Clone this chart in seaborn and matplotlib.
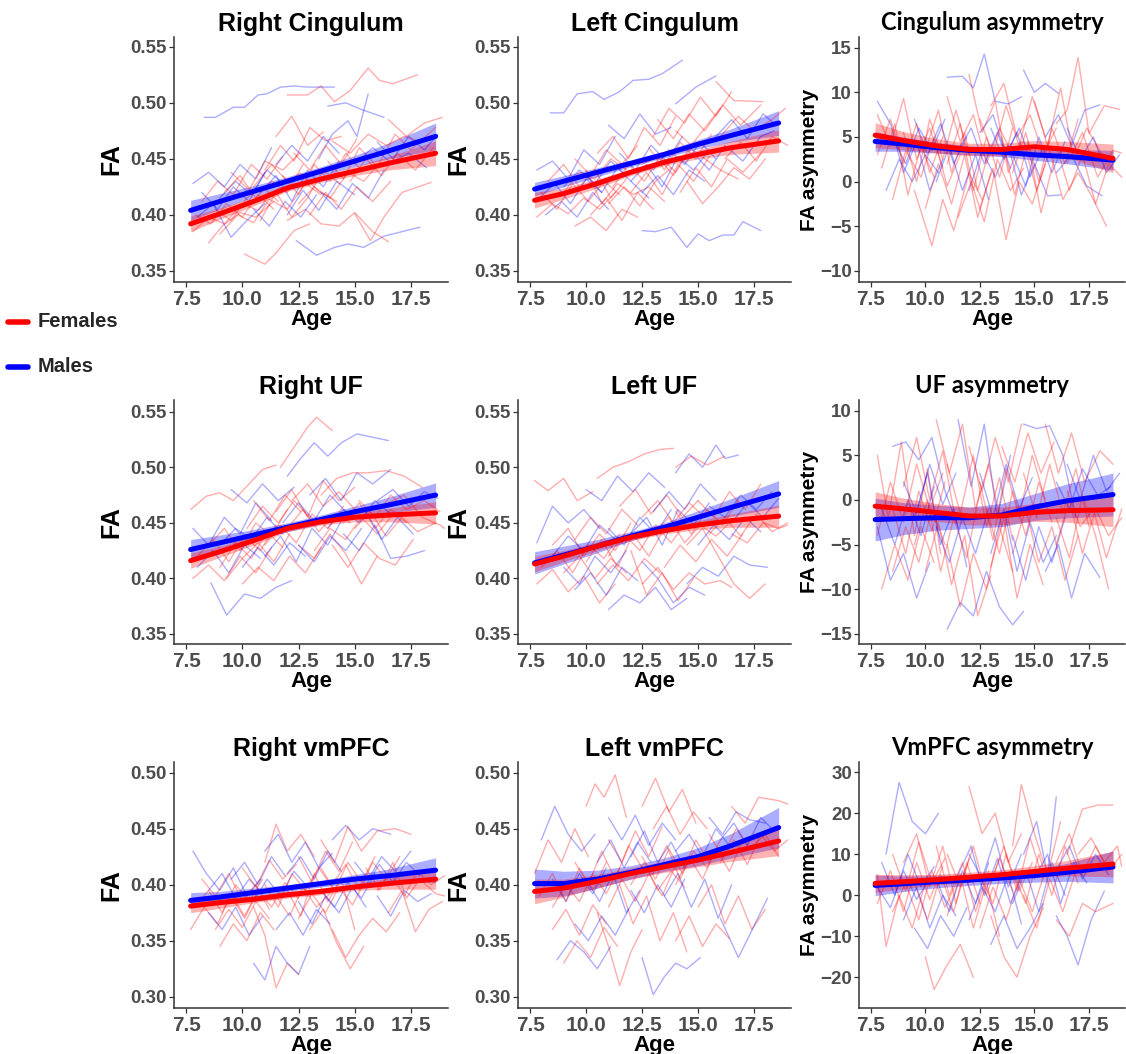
import matplotlib
matplotlib.use("Agg")
import matplotlib.pyplot as plt
import seaborn as sns
import pandas as pd
from matplotlib.lines import Line2D

sns.set_theme(style="ticks")
plt.rcParams['font.family'] = ['Liberation Sans', 'DejaVu Sans']
plt.rcParams['font.weight'] = 'bold'
plt.rcParams['axes.titleweight'] = 'bold'
plt.rcParams['axes.labelweight'] = 'bold'

# ---------------- data ----------------
FIT_AGE = [7.7, 9.0, 10.5, 12.0, 13.5, 15.0, 16.5, 18.6]

# Right Cingulum
RC_F = [
    [(12.0,0.507),(12.9,0.507),(13.5,0.515),(14.1,0.501),(14.8,0.511),(15.6,0.531),(16.1,0.520),(16.7,0.517),(17.8,0.525)],
    [(10.1,0.365),(11.0,0.356),(11.5,0.366),(12.3,0.386),(13.0,0.392)],
    [(7.8,0.385),(8.5,0.398),(9.2,0.392),(10.0,0.410),(10.7,0.404),(11.3,0.420)],
    [(8.2,0.412),(8.9,0.430),(9.6,0.418),(10.4,0.445),(11.1,0.432),(11.8,0.452)],
    [(9.0,0.383),(9.8,0.400),(10.5,0.393),(11.2,0.414),(12.0,0.405),(12.8,0.428),(13.5,0.418)],
    [(11.0,0.440),(11.7,0.462),(12.3,0.448),(13.0,0.478),(13.7,0.466),(14.4,0.470)],
    [(12.5,0.410),(13.2,0.425),(13.9,0.415),(14.7,0.438),(15.4,0.430),(16.1,0.446)],
    [(13.8,0.448),(14.5,0.432),(15.2,0.460),(16.0,0.443),(16.8,0.472),(17.5,0.458),(18.6,0.478)],
    [(15.0,0.401),(15.7,0.377),(16.3,0.398),(17.1,0.420),(18.4,0.429)],
    [(10.5,0.425),(11.3,0.445),(12.0,0.430),(12.6,0.437),(13.4,0.421),(14.2,0.412)],
    [(12.0,0.395),(12.8,0.405),(13.5,0.392),(14.3,0.390),(15.0,0.402),(15.8,0.385),(16.5,0.376)],
    [(8.5,0.375),(9.1,0.390),(9.9,0.402),(10.6,0.398),(11.4,0.412)],
    [(14.0,0.466),(14.8,0.455),(15.6,0.472),(16.4,0.462),(17.2,0.470),(18.0,0.465)],
    [(9.5,0.438),(10.3,0.422),(11.0,0.448),(11.8,0.440),(12.6,0.456)],
    [(11.5,0.470),(12.2,0.488),(12.9,0.462),(13.6,0.474)],
    [(16.5,0.485),(17.3,0.470),(18.1,0.482),(18.9,0.487)],
    [(7.9,0.400),(8.6,0.392),(9.3,0.410),(10.0,0.398),(10.7,0.418),(11.4,0.405)],
    [(9.2,0.420),(9.9,0.435),(10.6,0.415),(11.3,0.430),(12.0,0.420),(12.7,0.445)],
    [(10.8,0.395),(11.5,0.420),(12.2,0.398),(12.9,0.415),(13.6,0.440),(14.3,0.428)],
    [(11.8,0.435),(12.5,0.418),(13.2,0.445),(13.9,0.430),(14.6,0.455),(15.3,0.440)],
    [(13.0,0.400),(13.7,0.420),(14.4,0.405),(15.1,0.425),(15.8,0.412),(16.6,0.430)],
    [(14.8,0.430),(15.5,0.450),(16.2,0.435),(16.9,0.455),(17.7,0.440),(18.5,0.460)],
    [(8.8,0.405),(9.5,0.395),(10.2,0.415),(10.9,0.425),(11.6,0.412)],
    [(12.3,0.455),(13.0,0.440),(13.7,0.462),(14.4,0.445),(15.1,0.468)],
]
RC_M = [
    [(8.3,0.487),(8.8,0.487),(9.6,0.496),(10.1,0.496),(10.7,0.507),(11.1,0.508),(11.7,0.514),(12.3,0.515),(12.9,0.514),(14.1,0.514)],
    [(12.4,0.377),(13.3,0.364),(14.1,0.371),(14.7,0.374),(15.4,0.371),(16.3,0.381),(17.9,0.389)],
    [(13.8,0.497),(14.6,0.500),(15.3,0.494),(16.3,0.487)],
    [(13.4,0.450),(14.0,0.472),(14.7,0.484),(15.1,0.470),(15.6,0.508)],
    [(7.8,0.428),(8.5,0.438),(9.2,0.425),(9.9,0.445),(10.6,0.432),(11.3,0.460)],
    [(8.0,0.398),(8.7,0.410),(9.5,0.380),(10.2,0.395),(11.0,0.410)],
    [(10.8,0.420),(11.5,0.435),(12.2,0.412),(12.9,0.440),(13.6,0.425),(14.3,0.448)],
    [(12.0,0.400),(12.7,0.422),(13.4,0.404),(14.2,0.430),(15.0,0.418)],
    [(15.0,0.445),(15.8,0.460),(16.6,0.447),(17.4,0.455),(18.2,0.442)],
    [(9.0,0.415),(9.7,0.430),(10.4,0.418),(11.1,0.440),(11.8,0.428)],
    [(11.5,0.445),(12.2,0.462),(12.9,0.448),(13.6,0.470),(14.3,0.455)],
    [(13.5,0.420),(14.2,0.405),(14.9,0.428),(15.6,0.415),(16.3,0.440)],
    [(8.2,0.420),(8.9,0.405),(9.6,0.425),(10.3,0.412),(11.0,0.438)],
    [(16.0,0.465),(16.7,0.450),(17.4,0.470),(18.1,0.458),(18.7,0.472)],
    [(10.5,0.405),(11.2,0.390),(11.9,0.412),(12.6,0.398),(13.3,0.418)],
]
RC_F_MEAN = [0.392, 0.401, 0.412, 0.424, 0.432, 0.439, 0.446, 0.455]
RC_F_HW = [0.007, 0.005, 0.004, 0.003, 0.003, 0.004, 0.006, 0.011]
RC_M_MEAN = [0.404, 0.412, 0.421, 0.430, 0.439, 0.448, 0.457, 0.470]
RC_M_HW = [0.009, 0.007, 0.005, 0.004, 0.004, 0.005, 0.007, 0.012]

# Left Cingulum
LC_F = [
    [(15.8,0.519),(16.6,0.502),(17.9,0.501)],
    [(7.8,0.398),(8.5,0.410),(9.2,0.401),(9.9,0.415),(10.6,0.405),(11.3,0.420)],
    [(8.3,0.430),(9.0,0.445),(9.7,0.425),(10.4,0.440),(11.1,0.415),(11.8,0.432)],
    [(9.5,0.390),(10.2,0.398),(10.9,0.386),(11.6,0.405),(12.3,0.398)],
    [(10.5,0.455),(11.2,0.470),(11.9,0.450),(12.6,0.478),(13.3,0.462),(14.0,0.488)],
    [(12.0,0.420),(12.7,0.438),(13.4,0.418),(14.1,0.445),(14.8,0.430),(15.5,0.452)],
    [(13.0,0.470),(13.7,0.495),(14.4,0.482),(15.1,0.505),(15.8,0.488),(16.5,0.510)],
    [(14.5,0.430),(15.2,0.410),(15.9,0.425),(16.6,0.442),(17.3,0.432),(18.0,0.450)],
    [(11.0,0.410),(11.7,0.425),(12.4,0.408),(13.1,0.430),(13.8,0.442)],
    [(16.0,0.470),(16.8,0.488),(17.5,0.475),(18.3,0.485),(18.9,0.495)],
    [(9.0,0.420),(9.7,0.438),(10.4,0.432),(11.1,0.450),(11.8,0.440)],
    [(12.5,0.445),(13.2,0.452),(13.9,0.435),(14.6,0.460),(15.3,0.450),(16.0,0.440),(16.8,0.432)],
    [(14.0,0.475),(14.7,0.462),(15.4,0.480),(16.1,0.498),(16.9,0.480),(17.8,0.498)],
    [(10.0,0.440),(10.7,0.410),(11.4,0.428),(12.1,0.418),(12.8,0.425),(13.5,0.412)],
    [(8.0,0.420),(8.7,0.405),(9.4,0.428),(10.1,0.412),(10.8,0.430),(11.5,0.418)],
    [(9.5,0.450),(10.2,0.435),(10.9,0.458),(11.6,0.445),(12.3,0.462)],
    [(11.2,0.425),(11.9,0.445),(12.6,0.430),(13.3,0.452),(14.0,0.438),(14.7,0.460)],
    [(12.8,0.460),(13.5,0.440),(14.2,0.465),(14.9,0.450),(15.6,0.472)],
    [(14.2,0.420),(14.9,0.442),(15.6,0.425),(16.3,0.450),(17.0,0.438),(17.8,0.455)],
    [(16.2,0.450),(16.9,0.465),(17.6,0.448),(18.3,0.470),(19.0,0.462)],
    [(10.2,0.400),(10.9,0.415),(11.6,0.395),(12.3,0.420),(13.0,0.405)],
    [(13.2,0.485),(13.9,0.468),(14.6,0.490),(15.3,0.475),(16.0,0.495)],
]
LC_M = [
    [(8.4,0.491),(9.0,0.491),(9.6,0.508),(10.3,0.510),(10.8,0.503),(11.5,0.510),(12.1,0.520),(12.8,0.521),(13.4,0.526),(14.3,0.538)],
    [(12.5,0.386),(13.1,0.385),(13.8,0.389),(14.5,0.371),(15.0,0.383),(15.5,0.377),(16.1,0.382),(16.6,0.382),(17.0,0.394),(17.8,0.386)],
    [(14.0,0.499),(14.9,0.514),(15.8,0.524)],
    [(7.8,0.440),(8.5,0.448),(9.2,0.432),(9.9,0.458),(10.6,0.445),(11.3,0.470)],
    [(8.2,0.400),(8.9,0.412),(9.6,0.398),(10.3,0.420),(11.0,0.405)],
    [(11.0,0.480),(11.7,0.468),(12.4,0.490),(13.1,0.472),(13.8,0.478)],
    [(12.0,0.430),(12.7,0.445),(13.4,0.425),(14.1,0.452),(14.8,0.440),(15.5,0.458)],
    [(14.8,0.455),(15.5,0.440),(16.2,0.462),(17.0,0.448),(17.8,0.470),(18.4,0.475)],
    [(10.0,0.435),(10.7,0.420),(11.4,0.442),(12.1,0.428),(12.8,0.415)],
    [(9.0,0.425),(9.7,0.440),(10.4,0.428),(11.1,0.448),(11.8,0.435)],
    [(11.5,0.455),(12.2,0.440),(12.9,0.462),(13.6,0.448),(14.3,0.470)],
    [(13.0,0.440),(13.7,0.458),(14.4,0.445),(15.1,0.465),(15.8,0.450)],
    [(15.8,0.470),(16.5,0.485),(17.2,0.468),(17.9,0.490),(18.5,0.480)],
    [(7.9,0.415),(8.6,0.428),(9.3,0.410),(10.0,0.432),(10.7,0.420)],
    [(12.5,0.420),(13.2,0.435),(13.9,0.418),(14.6,0.440),(15.3,0.430)],
]
LC_F_MEAN = [0.413, 0.419, 0.428, 0.438, 0.447, 0.454, 0.460, 0.466]
LC_F_HW = [0.007, 0.005, 0.004, 0.003, 0.003, 0.004, 0.006, 0.010]
LC_M_MEAN = [0.423, 0.430, 0.438, 0.446, 0.454, 0.463, 0.471, 0.482]
LC_M_HW = [0.006, 0.005, 0.004, 0.003, 0.003, 0.004, 0.006, 0.011]

# Cingulum asymmetry
CA_F = [
    [(16.0,6.5),(16.5,8.0),(17.0,13.9),(17.5,5.4),(18.2,8.5),(18.9,8.1)],
    [(9.5,-1.0),(10.3,-7.2),(10.8,-2.0),(11.3,-5.5),(12.0,1.0),(12.6,-2.0)],
    [(7.8,7.5),(8.4,4.0),(9.0,9.3),(9.6,2.5),(10.2,6.0),(10.8,1.5)],
    [(8.5,-2.0),(9.1,3.5),(9.8,0.5),(10.4,5.0),(11.0,-0.5),(11.6,3.0)],
    [(11.0,9.5),(11.6,4.5),(12.2,7.5),(12.8,2.0),(13.4,6.0),(14.0,3.0)],
    [(12.5,-3.0),(13.1,1.5),(13.7,-6.5),(14.3,0.0),(14.9,-2.5),(15.5,2.0)],
    [(13.0,8.5),(13.6,11.0),(14.2,5.0),(14.8,7.5),(15.4,3.0),(16.0,6.0)],
    [(14.5,4.5),(15.1,-1.0),(15.7,3.5),(16.3,-2.0),(17.0,1.0),(17.6,-1.5),(18.3,-5.0)],
    [(10.0,3.5),(10.6,8.0),(11.2,1.0),(11.8,5.5),(12.4,-1.0),(13.0,4.0)],
    [(15.0,9.0),(15.6,4.0),(16.2,10.5),(16.8,2.5),(17.4,6.0),(18.1,3.0)],
    [(8.0,1.5),(8.6,6.5),(9.2,-1.5),(9.8,4.0),(10.4,0.5)],
    [(12.0,12.0),(12.6,5.5),(13.2,9.0),(13.8,1.0),(14.4,4.5)],
    [(11.5,-4.0),(12.1,0.0),(12.7,-4.5),(13.3,2.5),(13.9,-1.0),(14.5,1.5)],
    [(16.5,2.0),(17.2,5.5),(17.9,0.5),(18.6,3.5),(19.0,3.2)],
    [(7.8,3.0),(8.4,7.0),(9.0,2.0),(9.6,6.5),(10.2,1.0),(10.8,5.0)],
    [(9.0,5.5),(9.6,0.0),(10.2,7.0),(10.8,2.5),(11.4,8.0),(12.0,3.0)],
    [(11.0,2.0),(11.6,6.5),(12.2,-1.0),(12.8,5.0),(13.4,0.5),(14.0,6.0)],
    [(12.5,7.0),(13.1,3.0),(13.7,8.5),(14.3,4.0),(14.9,9.5),(15.5,5.0)],
    [(14.0,1.0),(14.6,5.5),(15.2,0.0),(15.8,6.0),(16.4,2.0),(17.0,7.0)],
    [(16.0,4.0),(16.6,-1.0),(17.2,3.0),(17.8,-2.5),(18.4,2.0),(19.0,0.5)],
    [(10.0,-3.0),(10.6,2.0),(11.2,-2.5),(11.8,3.0),(12.4,-4.0),(13.0,1.0)],
    [(13.5,5.0),(14.1,-1.5),(14.7,4.5),(15.3,-3.5),(15.9,2.5)],
]
CA_M = [
    [(11.0,11.7),(11.7,11.8),(12.2,10.5),(12.7,14.3),(13.2,9.0),(13.8,8.7),(14.4,9.5)],
    [(7.8,9.0),(8.4,6.5),(9.0,1.0),(9.6,4.5),(10.2,-1.0),(10.8,2.5)],
    [(14.5,12.5),(15.0,10.0),(15.5,11.0),(16.1,9.9)],
    [(12.0,-1.0),(12.6,3.5),(13.2,0.5),(13.8,4.0),(14.4,-1.5),(15.0,2.0),(15.6,-1.6),(16.2,-1.5)],
    [(9.5,7.0),(10.1,3.0),(10.7,6.5),(11.3,2.0),(11.9,5.0)],
    [(15.5,5.0),(16.1,7.5),(16.7,4.0),(17.3,8.0),(18.0,8.6)],
    [(8.2,-1.0),(8.8,2.5),(9.4,0.0),(10.0,3.0),(10.6,1.0)],
    [(13.0,6.0),(13.6,2.5),(14.2,5.5),(14.8,0.5),(15.4,4.0)],
    [(16.0,1.0),(16.7,3.0),(17.4,-0.5),(18.1,-1.6)],
    [(8.5,5.0),(9.1,2.0),(9.7,6.0),(10.3,3.5),(10.9,7.0)],
    [(10.5,0.0),(11.1,4.0),(11.7,-1.0),(12.3,3.0),(12.9,-2.0)],
    [(12.5,5.5),(13.1,7.5),(13.7,3.0),(14.3,6.0),(14.9,2.0)],
    [(14.0,3.0),(14.6,-0.5),(15.2,5.0),(15.8,1.0),(16.4,4.5)],
    [(16.5,6.0),(17.1,2.5),(17.7,5.0),(18.3,1.0),(18.9,3.0)],
    [(11.5,3.5),(12.1,6.0),(12.7,2.0),(13.3,5.5),(13.9,1.5)],
]
CA_F_MEAN = [5.2, 4.6, 4.0, 3.6, 3.6, 3.9, 3.6, 2.6]
CA_F_HW = [1.4, 1.0, 0.8, 0.7, 0.7, 0.7, 0.9, 1.6]
CA_M_MEAN = [4.5, 4.2, 3.8, 3.5, 3.3, 3.0, 2.8, 2.4]
CA_M_HW = [1.1, 0.8, 0.6, 0.5, 0.5, 0.6, 0.8, 1.1]

# Right UF
RU_F = [
    [(11.7,0.500),(12.4,0.521),(12.9,0.536),(13.3,0.545),(14.0,0.533)],
    [(7.7,0.462),(8.4,0.474),(9.0,0.477),(9.6,0.470),(10.3,0.485),(10.9,0.498),(11.5,0.502)],
    [(7.8,0.400),(8.5,0.412),(9.2,0.398),(9.9,0.420),(10.6,0.405),(11.3,0.428)],
    [(8.5,0.430),(9.2,0.445),(9.9,0.425),(10.6,0.450),(11.3,0.438),(12.0,0.462)],
    [(10.0,0.395),(10.7,0.410),(11.4,0.398),(12.1,0.420),(12.8,0.405),(13.5,0.428)],
    [(11.5,0.460),(12.2,0.480),(12.9,0.455),(13.6,0.488),(14.3,0.470),(15.0,0.482)],
    [(12.5,0.430),(13.2,0.418),(13.9,0.440),(14.6,0.422),(15.3,0.395),(16.0,0.420)],
    [(13.5,0.475),(14.2,0.490),(14.9,0.495),(15.6,0.495),(16.4,0.497),(17.2,0.492),(18.0,0.482)],
    [(15.0,0.445),(15.7,0.460),(16.4,0.438),(17.1,0.455),(17.8,0.442),(18.6,0.450)],
    [(9.0,0.410),(9.7,0.432),(10.4,0.418),(11.1,0.442),(11.8,0.428)],
    [(14.0,0.430),(14.7,0.410),(15.4,0.432),(16.1,0.418),(16.8,0.412),(17.6,0.435)],
    [(12.0,0.445),(12.7,0.462),(13.4,0.442),(14.1,0.458),(14.8,0.450)],
    [(16.5,0.468),(17.2,0.475),(18.0,0.455),(18.8,0.448),(19.0,0.445)],
    [(10.5,0.470),(11.2,0.452),(11.9,0.475),(12.6,0.460)],
    [(8.0,0.420),(8.7,0.435),(9.4,0.415),(10.1,0.438),(10.8,0.425),(11.5,0.448)],
    [(9.3,0.400),(10.0,0.418),(10.7,0.432),(11.4,0.415),(12.1,0.440)],
    [(11.0,0.430),(11.7,0.448),(12.4,0.432),(13.1,0.458),(13.8,0.445),(14.5,0.465)],
    [(12.2,0.470),(12.9,0.485),(13.6,0.465),(14.3,0.478),(15.0,0.462)],
    [(13.2,0.425),(13.9,0.445),(14.6,0.435),(15.3,0.455),(16.0,0.440),(16.8,0.460)],
    [(15.2,0.470),(15.9,0.455),(16.6,0.475),(17.3,0.462),(18.1,0.470),(18.8,0.460)],
    [(10.2,0.445),(10.9,0.465),(11.6,0.450),(12.3,0.470),(13.0,0.455)],
    [(14.5,0.450),(15.2,0.468),(15.9,0.445),(16.6,0.462),(17.3,0.450)],
]
RU_M = [
    [(12.0,0.492),(12.6,0.508),(13.2,0.522),(13.8,0.510),(14.4,0.522),(15.1,0.530),(16.5,0.524)],
    [(8.6,0.396),(9.3,0.367),(10.1,0.386),(10.8,0.382),(11.5,0.392),(12.2,0.398)],
    [(7.8,0.445),(8.5,0.430),(9.2,0.455),(9.9,0.440),(10.6,0.468),(11.3,0.452)],
    [(9.5,0.480),(10.2,0.468),(10.9,0.485),(11.6,0.470),(12.3,0.482)],
    [(11.0,0.420),(11.7,0.438),(12.4,0.415),(13.1,0.445),(13.8,0.430),(14.5,0.455)],
    [(13.0,0.475),(13.7,0.490),(14.4,0.470),(15.1,0.495),(15.8,0.485),(16.6,0.498)],
    [(14.5,0.440),(15.2,0.425),(15.9,0.448),(16.6,0.418),(17.3,0.420),(18.1,0.425)],
    [(8.0,0.410),(8.7,0.425),(9.4,0.405),(10.1,0.430),(10.8,0.418)],
    [(15.5,0.460),(16.2,0.435),(16.9,0.455),(17.6,0.440)],
    [(9.0,0.430),(9.7,0.445),(10.4,0.435),(11.1,0.455),(11.8,0.440)],
    [(11.8,0.450),(12.5,0.468),(13.2,0.452),(13.9,0.475),(14.6,0.460)],
    [(13.8,0.445),(14.5,0.462),(15.2,0.450),(15.9,0.470),(16.6,0.458)],
    [(16.0,0.470),(16.7,0.480),(17.4,0.465),(18.1,0.478),(18.7,0.472)],
    [(10.0,0.410),(10.7,0.428),(11.4,0.412),(12.1,0.432),(12.8,0.420)],
    [(12.5,0.430),(13.2,0.415),(13.9,0.438),(14.6,0.425),(15.3,0.445)],
]
RU_F_MEAN = [0.416, 0.424, 0.434, 0.445, 0.451, 0.455, 0.457, 0.459]
RU_F_HW = [0.007, 0.005, 0.004, 0.003, 0.003, 0.004, 0.006, 0.010]
RU_M_MEAN = [0.426, 0.432, 0.439, 0.446, 0.453, 0.460, 0.466, 0.475]
RU_M_HW = [0.009, 0.007, 0.005, 0.004, 0.004, 0.005, 0.007, 0.011]

# Left UF
LU_F = [
    [(10.5,0.490),(11.2,0.500),(11.9,0.505),(12.6,0.512),(13.3,0.516),(13.9,0.517)],
    [(7.7,0.488),(8.3,0.479),(9.0,0.490),(9.6,0.470),(10.3,0.478)],
    [(7.8,0.395),(8.5,0.408),(9.2,0.388),(9.9,0.402),(10.6,0.378),(11.3,0.395)],
    [(8.5,0.430),(9.2,0.445),(9.9,0.420),(10.6,0.440),(11.3,0.425),(12.0,0.450)],
    [(10.0,0.415),(10.7,0.435),(11.4,0.410),(12.1,0.440),(12.8,0.420),(13.5,0.445)],
    [(11.5,0.465),(12.2,0.480),(12.9,0.458),(13.6,0.475),(14.3,0.455),(15.0,0.470)],
    [(12.5,0.395),(13.2,0.410),(13.9,0.390),(14.6,0.405),(15.3,0.395),(16.0,0.398),(16.5,0.392)],
    [(14.5,0.430),(15.2,0.445),(15.9,0.420),(16.6,0.395),(17.3,0.382),(18.0,0.395)],
    [(15.0,0.470),(15.7,0.455),(16.4,0.478),(17.1,0.462),(17.8,0.485)],
    [(9.0,0.405),(9.7,0.420),(10.4,0.400),(11.1,0.418),(11.8,0.405)],
    [(13.0,0.440),(13.7,0.455),(14.4,0.432),(15.1,0.448),(15.8,0.438),(16.5,0.452)],
    [(16.5,0.440),(17.2,0.432),(17.9,0.450),(18.6,0.445),(19.0,0.448)],
    [(12.0,0.425),(12.7,0.385),(13.4,0.405),(14.1,0.380),(14.8,0.400)],
    [(14.0,0.500),(14.7,0.510),(15.4,0.502),(16.2,0.510)],
    [(8.0,0.410),(8.7,0.425),(9.4,0.405),(10.1,0.430),(10.8,0.418),(11.5,0.440)],
    [(9.5,0.435),(10.2,0.455),(10.9,0.440),(11.6,0.462),(12.3,0.448)],
    [(11.0,0.420),(11.7,0.440),(12.4,0.425),(13.1,0.448),(13.8,0.432),(14.5,0.452)],
    [(12.5,0.455),(13.2,0.470),(13.9,0.450),(14.6,0.468),(15.3,0.455)],
    [(13.5,0.410),(14.2,0.430),(14.9,0.415),(15.6,0.435),(16.3,0.420),(17.0,0.440)],
    [(15.5,0.440),(16.2,0.455),(16.9,0.438),(17.6,0.458),(18.3,0.442),(19.0,0.450)],
    [(10.5,0.395),(11.2,0.412),(11.9,0.398),(12.6,0.418),(13.3,0.405)],
    [(14.0,0.460),(14.7,0.440),(15.4,0.462),(16.1,0.448),(16.8,0.470)],
]
LU_M = [
    [(14.0,0.495),(14.6,0.512),(15.2,0.500),(15.8,0.520),(16.2,0.508),(16.8,0.511)],
    [(11.0,0.372),(11.7,0.385),(12.4,0.378),(13.1,0.392),(13.8,0.372),(14.5,0.382)],
    [(7.8,0.432),(8.5,0.465),(9.2,0.450),(9.9,0.462),(10.6,0.445)],
    [(10.0,0.480),(10.7,0.470),(11.4,0.492),(12.1,0.478),(12.8,0.495),(13.5,0.482)],
    [(12.0,0.440),(12.7,0.455),(13.4,0.430),(14.1,0.462),(14.8,0.448),(15.5,0.468)],
    [(14.5,0.395),(15.2,0.410),(15.9,0.402),(16.6,0.420),(17.3,0.412),(18.1,0.410)],
    [(9.0,0.410),(9.7,0.395),(10.4,0.420),(11.1,0.405),(11.8,0.425)],
    [(15.5,0.465),(16.2,0.455),(16.9,0.475),(17.6,0.462),(18.3,0.478)],
    [(12.5,0.415),(13.2,0.400),(13.9,0.378),(14.6,0.392),(15.3,0.385)],
    [(8.5,0.420),(9.2,0.438),(9.9,0.425),(10.6,0.448),(11.3,0.435)],
    [(11.0,0.445),(11.7,0.430),(12.4,0.455),(13.1,0.440),(13.8,0.462)],
    [(13.0,0.460),(13.7,0.478),(14.4,0.462),(15.1,0.485),(15.8,0.470)],
    [(15.0,0.430),(15.7,0.448),(16.4,0.435),(17.1,0.455),(17.8,0.442)],
    [(9.5,0.390),(10.2,0.405),(10.9,0.385),(11.6,0.410),(12.3,0.398)],
    [(16.5,0.450),(17.2,0.468),(17.9,0.455),(18.6,0.472)],
]
LU_F_MEAN = [0.413, 0.420, 0.429, 0.437, 0.443, 0.448, 0.452, 0.456]
LU_F_HW = [0.007, 0.005, 0.004, 0.003, 0.003, 0.004, 0.006, 0.010]
LU_M_MEAN = [0.414, 0.421, 0.429, 0.438, 0.446, 0.455, 0.464, 0.476]
LU_M_HW = [0.010, 0.008, 0.006, 0.004, 0.004, 0.006, 0.008, 0.012]

# UF asymmetry
UA_F = [
    [(7.8,5.0),(8.3,-2.0),(8.9,6.5),(9.5,-4.0),(10.1,3.5),(10.7,-6.0)],
    [(8.0,-10.0),(8.6,-5.0),(9.2,-9.0),(9.8,-3.0),(10.4,-7.0)],
    [(10.5,9.0),(11.1,3.0),(11.7,8.5),(12.3,-1.0),(12.9,4.0),(13.5,-3.0)],
    [(11.0,-5.0),(11.6,-12.0),(12.2,-6.0),(12.8,-10.0),(13.4,-3.0),(14.0,-8.0)],
    [(12.5,2.0),(13.1,-4.5),(13.7,3.5),(14.3,-2.0),(14.9,5.0),(15.5,0.0)],
    [(14.0,-6.0),(14.6,-1.0),(15.2,-7.0),(15.8,-3.0),(16.4,-9.0),(17.0,-4.0)],
    [(15.5,8.5),(16.1,3.0),(16.7,7.5),(17.3,2.0),(18.0,5.5),(18.6,4.0)],
    [(9.0,1.5),(9.6,7.0),(10.2,0.0),(10.8,5.5),(11.4,-2.5)],
    [(13.0,-7.5),(13.6,-2.0),(14.2,-11.0),(14.8,-5.0),(15.4,-9.5)],
    [(16.0,-2.0),(16.6,-6.5),(17.2,0.5),(17.8,-4.0),(18.4,-10.0)],
    [(10.0,-8.0),(10.6,-2.5),(11.2,-9.5),(11.8,-4.0),(12.4,-13.0),(13.0,-8.5)],
    [(12.0,6.0),(12.6,1.0),(13.2,7.0),(13.8,2.0),(14.4,8.5)],
    [(16.5,1.0),(17.1,-3.0),(17.7,-1.0),(18.3,-6.5),(19.0,-1.0)],
    [(8.5,-1.0),(9.1,-6.0),(9.7,1.0),(10.3,-3.5),(10.9,2.0)],
    [(7.8,-4.0),(8.4,2.0),(9.0,-2.5),(9.6,4.0),(10.2,-1.0),(10.8,3.0)],
    [(9.5,-5.0),(10.1,0.0),(10.7,-8.0),(11.3,-2.0),(11.9,-6.5),(12.5,1.0)],
    [(11.0,4.0),(11.6,-1.5),(12.2,5.0),(12.8,-3.0),(13.4,2.5),(14.0,-4.5)],
    [(12.8,-1.0),(13.4,-6.0),(14.0,1.0),(14.6,-4.0),(15.2,2.0),(15.8,-2.5)],
    [(14.5,3.0),(15.1,-2.0),(15.7,4.0),(16.3,-1.5),(16.9,3.5),(17.5,-3.0)],
    [(16.0,-5.0),(16.6,0.0),(17.2,-6.0),(17.8,-1.0),(18.4,-4.0),(19.0,-2.0)],
    [(8.5,-8.0),(9.1,-3.0),(9.7,-7.0),(10.3,-1.0),(10.9,-5.0)],
    [(13.5,6.0),(14.1,2.0),(14.7,7.5),(15.3,3.0),(15.9,6.5)],
]
UA_M = [
    [(11.5,9.0),(12.1,1.5),(12.7,8.5),(13.3,-2.0),(13.9,5.0)],
    [(11.0,-14.5),(11.6,-11.5),(12.2,-13.0),(12.8,-8.0),(13.4,-12.0),(14.0,-14.0),(14.5,-12.5)],
    [(8.5,6.0),(9.1,6.5),(9.7,4.5),(10.3,7.0),(10.9,1.0),(11.5,-3.0)],
    [(14.5,8.5),(15.1,8.0),(15.7,8.3),(16.3,5.0),(16.9,-2.0)],
    [(7.8,-3.0),(8.4,-9.0),(9.0,-6.0),(9.6,-11.0),(10.2,-7.0)],
    [(13.0,-6.0),(13.6,-1.0),(14.2,-8.0),(14.8,-2.5),(15.4,-7.0),(16.0,-4.0)],
    [(15.5,-8.0),(16.1,-5.0),(16.7,-11.0),(17.3,-6.0),(18.0,-8.7)],
    [(9.5,-2.0),(10.1,3.0),(10.7,-5.0),(11.3,-1.0),(11.9,-7.5)],
    [(16.0,2.0),(16.6,-1.0),(17.2,3.5),(17.9,0.5),(18.5,1.5)],
    [(8.0,-1.0),(8.6,-5.0),(9.2,0.0),(9.8,-4.0),(10.4,1.5)],
    [(10.5,-3.0),(11.1,-7.0),(11.7,-2.0),(12.3,-6.0),(12.9,-1.0)],
    [(12.5,3.0),(13.1,-2.0),(13.7,4.0),(14.3,-1.0),(14.9,2.5)],
    [(14.0,-4.0),(14.6,-9.0),(15.2,-3.0),(15.8,-7.0),(16.4,-2.0)],
    [(16.5,4.0),(17.1,0.0),(17.7,5.0),(18.3,1.0),(18.9,3.0)],
    [(9.0,2.0),(9.6,-1.5),(10.2,4.0),(10.8,-0.5),(11.4,3.0)],
]
UA_F_MEAN = [-0.7, -1.0, -1.4, -1.8, -1.8, -1.4, -1.2, -1.1]
UA_F_HW = [1.6, 1.2, 1.0, 1.0, 1.0, 1.0, 1.3, 1.9]
UA_M_MEAN = [-2.2, -2.1, -2.0, -2.0, -1.7, -0.8, -0.1, 0.6]
UA_M_HW = [2.4, 1.8, 1.4, 1.2, 1.3, 1.5, 1.9, 2.4]

# Right vmPFC
RV_F = [
    [(10.5,0.380),(11.0,0.355),(11.5,0.308),(12.0,0.330),(12.5,0.320)],
    [(11.0,0.420),(11.5,0.454),(12.0,0.430),(12.6,0.445),(13.2,0.425)],
    [(7.7,0.360),(8.3,0.380),(8.9,0.365),(9.5,0.392),(10.1,0.372),(10.7,0.395)],
    [(8.2,0.405),(8.8,0.390),(9.4,0.410),(10.0,0.385),(10.6,0.400),(11.2,0.378)],
    [(12.0,0.395),(12.6,0.372),(13.2,0.410),(13.8,0.385),(14.4,0.405),(15.0,0.360)],
    [(13.5,0.440),(14.1,0.420),(14.7,0.452),(15.3,0.430),(16.0,0.448),(16.8,0.450),(17.5,0.445)],
    [(14.0,0.360),(14.6,0.335),(15.2,0.355),(15.8,0.370),(16.4,0.358),(17.0,0.375)],
    [(15.5,0.415),(16.1,0.395),(16.7,0.420),(17.3,0.388),(17.9,0.405),(18.6,0.392),(19.0,0.390)],
    [(9.0,0.345),(9.6,0.365),(10.2,0.350),(10.8,0.375),(11.4,0.360)],
    [(12.5,0.425),(13.1,0.402),(13.7,0.430),(14.3,0.412),(14.9,0.438)],
    [(16.5,0.375),(17.1,0.395),(17.7,0.358),(18.3,0.378),(18.9,0.385)],
    [(10.0,0.415),(10.6,0.398),(11.2,0.422),(11.8,0.405),(12.4,0.418)],
    [(13.0,0.360),(13.6,0.378),(14.2,0.348),(14.8,0.325),(15.4,0.345)],
    [(11.5,0.390),(12.1,0.372),(12.7,0.398),(13.3,0.380),(13.9,0.392)],
    [(7.9,0.380),(8.5,0.395),(9.1,0.375),(9.7,0.400),(10.3,0.385),(10.9,0.405)],
    [(9.5,0.390),(10.1,0.370),(10.7,0.395),(11.3,0.380),(11.9,0.402),(12.5,0.388)],
    [(11.0,0.400),(11.6,0.380),(12.2,0.410),(12.8,0.395),(13.4,0.415),(14.0,0.398)],
    [(12.5,0.370),(13.1,0.392),(13.7,0.375),(14.3,0.398),(14.9,0.382),(15.5,0.405)],
    [(14.0,0.400),(14.6,0.418),(15.2,0.395),(15.8,0.420),(16.4,0.405),(17.0,0.425)],
    [(16.0,0.395),(16.6,0.410),(17.2,0.390),(17.8,0.412),(18.4,0.400),(19.0,0.408)],
    [(8.8,0.360),(9.4,0.378),(10.0,0.362),(10.6,0.385),(11.2,0.370)],
    [(13.5,0.415),(14.1,0.395),(14.7,0.420),(15.3,0.402),(15.9,0.425)],
]
RV_M = [
    [(10.5,0.330),(11.0,0.315),(11.5,0.345),(12.0,0.330),(12.5,0.320),(13.0,0.345)],
    [(14.0,0.440),(14.6,0.453),(15.2,0.440),(15.8,0.450),(16.6,0.445)],
    [(7.8,0.430),(8.4,0.410),(9.0,0.395),(9.6,0.415),(10.2,0.390),(10.8,0.405)],
    [(8.5,0.375),(9.1,0.360),(9.7,0.380),(10.3,0.355),(10.9,0.372)],
    [(11.0,0.430),(11.6,0.445),(12.2,0.420),(12.8,0.438),(13.4,0.415),(14.0,0.428)],
    [(12.5,0.385),(13.1,0.365),(13.7,0.390),(14.3,0.375),(14.9,0.398),(15.5,0.380)],
    [(15.0,0.420),(15.6,0.405),(16.2,0.425),(16.8,0.412),(17.5,0.430)],
    [(16.0,0.390),(16.6,0.372),(17.2,0.395),(17.8,0.385),(18.4,0.392)],
    [(9.5,0.405),(10.1,0.420),(10.7,0.400),(11.3,0.425),(11.9,0.408)],
    [(8.5,0.395),(9.1,0.410),(9.7,0.388),(10.3,0.405),(10.9,0.392)],
    [(10.5,0.385),(11.1,0.405),(11.7,0.390),(12.3,0.412),(12.9,0.398)],
    [(12.0,0.410),(12.6,0.425),(13.2,0.405),(13.8,0.430),(14.4,0.412)],
    [(13.5,0.395),(14.1,0.380),(14.7,0.402),(15.3,0.388),(15.9,0.410)],
    [(15.5,0.400),(16.1,0.418),(16.7,0.402),(17.3,0.420),(17.9,0.408)],
    [(11.5,0.360),(12.1,0.375),(12.7,0.355),(13.3,0.378),(13.9,0.365)],
]
RV_F_MEAN = [0.381, 0.384, 0.387, 0.391, 0.394, 0.398, 0.401, 0.405]
RV_F_HW = [0.006, 0.005, 0.003, 0.003, 0.003, 0.003, 0.005, 0.009]
RV_M_MEAN = [0.386, 0.389, 0.393, 0.397, 0.401, 0.405, 0.408, 0.413]
RV_M_HW = [0.007, 0.005, 0.004, 0.003, 0.003, 0.004, 0.006, 0.011]

# Left vmPFC
LV_F = [
    [(10.0,0.470),(10.4,0.490),(10.8,0.478),(11.3,0.498),(11.8,0.460)],
    [(9.0,0.330),(9.6,0.350),(10.2,0.335),(10.8,0.362),(11.4,0.345)],
    [(7.7,0.410),(8.3,0.440),(8.9,0.420),(9.5,0.450),(10.1,0.425)],
    [(11.5,0.400),(12.1,0.365),(12.7,0.390),(13.3,0.350),(13.9,0.375),(14.5,0.340)],
    [(12.5,0.470),(13.1,0.495),(13.7,0.465),(14.3,0.485),(14.9,0.455)],
    [(13.0,0.410),(13.6,0.435),(14.2,0.405),(14.8,0.430),(15.4,0.415),(16.0,0.440)],
    [(15.0,0.380),(15.6,0.400),(16.2,0.365),(16.8,0.390),(17.4,0.360),(18.0,0.378)],
    [(16.5,0.470),(17.1,0.455),(17.7,0.478),(18.6,0.475),(19.0,0.472)],
    [(8.5,0.380),(9.1,0.400),(9.7,0.385),(10.3,0.410),(10.9,0.392),(11.5,0.415)],
    [(11.0,0.440),(11.6,0.420),(12.2,0.448),(12.8,0.425),(13.4,0.452)],
    [(14.0,0.350),(14.6,0.372),(15.2,0.345),(15.8,0.365),(16.4,0.352)],
    [(10.5,0.375),(11.0,0.345),(11.5,0.310),(12.0,0.340),(12.5,0.360)],
    [(15.5,0.445),(16.1,0.425),(16.7,0.450),(17.3,0.432),(18.0,0.445),(18.6,0.425)],
    [(12.0,0.400),(12.6,0.420),(13.2,0.395),(13.8,0.412),(14.4,0.398)],
    [(7.9,0.390),(8.5,0.410),(9.1,0.385),(9.7,0.415),(10.3,0.395),(10.9,0.420)],
    [(9.5,0.420),(10.1,0.400),(10.7,0.430),(11.3,0.405),(11.9,0.435),(12.5,0.415)],
    [(11.0,0.380),(11.6,0.405),(12.2,0.385),(12.8,0.410),(13.4,0.390),(14.0,0.418)],
    [(12.5,0.425),(13.1,0.405),(13.7,0.432),(14.3,0.410),(14.9,0.440),(15.5,0.420)],
    [(14.0,0.400),(14.6,0.425),(15.2,0.405),(15.8,0.432),(16.4,0.412),(17.0,0.440)],
    [(16.0,0.420),(16.6,0.440),(17.2,0.418),(17.8,0.445),(18.4,0.430),(19.0,0.440)],
    [(8.5,0.360),(9.1,0.378),(9.7,0.355),(10.3,0.382),(10.9,0.365)],
    [(13.0,0.450),(13.6,0.470),(14.2,0.445),(14.8,0.465),(15.4,0.450)],
]
LV_M = [
    [(12.5,0.335),(13.0,0.302),(13.5,0.318),(14.0,0.330),(14.5,0.325),(15.1,0.335)],
    [(8.0,0.440),(8.6,0.470),(9.2,0.445),(9.8,0.430),(10.4,0.445)],
    [(8.7,0.333),(9.3,0.350),(9.9,0.340),(10.5,0.325),(11.1,0.345)],
    [(11.0,0.460),(11.6,0.440),(12.2,0.462),(12.8,0.435),(13.4,0.455),(14.0,0.440)],
    [(13.5,0.390),(14.1,0.410),(14.7,0.380),(15.3,0.405),(15.9,0.370),(16.5,0.400)],
    [(15.5,0.460),(16.1,0.445),(16.7,0.465),(17.3,0.458),(18.0,0.455)],
    [(16.0,0.370),(16.8,0.335),(17.3,0.355),(18.1,0.388)],
    [(10.0,0.405),(10.6,0.385),(11.2,0.410),(11.8,0.375),(12.4,0.395)],
    [(12.0,0.425),(12.6,0.448),(13.2,0.420),(13.8,0.438),(14.4,0.415)],
    [(8.5,0.405),(9.1,0.385),(9.7,0.410),(10.3,0.392),(10.9,0.415)],
    [(10.5,0.420),(11.1,0.440),(11.7,0.415),(12.3,0.438),(12.9,0.420)],
    [(12.0,0.395),(12.6,0.375),(13.2,0.400),(13.8,0.380),(14.4,0.405)],
    [(14.0,0.430),(14.6,0.445),(15.2,0.425),(15.8,0.450),(16.4,0.435)],
    [(16.0,0.440),(16.6,0.455),(17.2,0.435),(17.8,0.460),(18.4,0.448)],
    [(9.5,0.365),(10.1,0.350),(10.7,0.372),(11.3,0.355),(11.9,0.378)],
]
LV_F_MEAN = [0.394, 0.397, 0.403, 0.410, 0.416, 0.422, 0.429, 0.439]
LV_F_HW = [0.011, 0.008, 0.006, 0.005, 0.005, 0.006, 0.008, 0.013]
LV_M_MEAN = [0.401, 0.401, 0.405, 0.411, 0.418, 0.425, 0.435, 0.451]
LV_M_HW = [0.013, 0.011, 0.008, 0.006, 0.006, 0.008, 0.011, 0.018]

# VmPFC asymmetry
VA_F = [
    [(10.0,-15.0),(10.4,-23.0),(11.0,-17.0),(11.6,-12.0),(12.2,-20.0)],
    [(12.0,26.5),(12.6,15.0),(13.2,20.0),(13.8,8.0),(14.4,15.0)],
    [(7.8,5.0),(8.2,-12.5),(8.8,0.0),(9.4,-8.0),(10.0,3.0)],
    [(9.0,8.0),(9.6,15.0),(10.2,2.0),(10.8,12.0),(11.4,-2.0),(12.0,9.0)],
    [(13.0,-5.0),(13.6,-15.0),(14.2,-20.0),(14.8,-10.0),(15.4,-3.0)],
    [(14.0,12.0),(14.4,27.0),(15.0,15.0),(15.6,5.0),(16.2,18.0)],
    [(16.0,-6.0),(16.6,-10.0),(17.2,-2.0),(17.8,-4.0),(18.6,-2.0)],
    [(16.5,10.0),(17.2,21.0),(17.9,22.0),(18.6,22.0)],
    [(11.0,-5.0),(11.6,5.0),(12.2,-8.0),(12.8,3.0),(13.4,-10.0)],
    [(8.5,-4.0),(9.1,3.0),(9.7,-6.0),(10.3,6.0),(10.9,-3.0),(11.5,4.0)],
    [(14.5,0.0),(15.1,-8.0),(15.7,4.0),(16.3,-4.0),(16.9,6.0)],
    [(12.5,5.0),(13.1,-2.0),(13.7,10.0),(14.3,1.0),(14.9,8.0)],
    [(17.0,10.0),(17.6,14.0),(18.2,8.0),(18.8,12.0),(19.0,7.0)],
    [(10.5,12.0),(11.1,0.0),(11.7,8.0),(12.3,-4.0),(12.9,6.0)],
    [(7.8,-2.0),(8.4,6.0),(9.0,-4.0),(9.6,8.0),(10.2,-1.0),(10.8,7.0)],
    [(9.5,3.0),(10.1,-6.0),(10.7,5.0),(11.3,-4.0),(11.9,8.0),(12.5,-2.0)],
    [(11.0,10.0),(11.6,2.0),(12.2,12.0),(12.8,0.0),(13.4,9.0),(14.0,1.0)],
    [(12.5,-8.0),(13.1,2.0),(13.7,-6.0),(14.3,4.0),(14.9,-4.0),(15.5,6.0)],
    [(14.0,6.0),(14.6,-2.0),(15.2,10.0),(15.8,0.0),(16.4,12.0),(17.0,3.0)],
    [(16.0,8.0),(16.6,15.0),(17.2,5.0),(17.8,12.0),(18.4,6.0),(19.0,10.0)],
    [(8.5,10.0),(9.1,1.0),(9.7,13.0),(10.3,3.0),(10.9,9.0)],
    [(13.0,3.0),(13.6,12.0),(14.2,1.0),(14.8,14.0),(15.4,4.0)],
]
VA_M = [
    [(8.2,10.0),(8.8,27.5),(9.4,18.0),(10.0,15.0),(10.6,20.0)],
    [(16.0,-5.0),(16.5,-10.0),(17.0,-17.0),(17.6,-6.0),(18.2,1.0)],
    [(14.5,10.0),(15.1,18.0),(15.6,5.0),(16.0,24.0)],
    [(9.5,-8.0),(10.1,-13.0),(10.7,-5.0),(11.3,-10.0),(11.9,-3.0)],
    [(11.5,5.0),(12.1,12.0),(12.7,0.0),(13.3,9.0),(13.9,-2.0),(14.5,6.0)],
    [(13.0,-12.0),(13.6,-5.0),(14.2,-13.0),(14.8,-8.0),(15.4,-2.0)],
    [(7.8,2.0),(8.4,-3.0),(9.0,6.0),(9.6,-1.0),(10.2,4.0)],
    [(15.0,4.0),(15.6,10.0),(16.2,-2.0),(16.8,8.0),(17.4,3.0)],
    [(12.0,-6.0),(12.6,2.0),(13.2,-4.0),(13.8,5.0),(14.4,-7.0)],
    [(8.0,8.0),(8.6,0.0),(9.2,10.0),(9.8,2.0),(10.4,7.0)],
    [(10.5,4.0),(11.1,-4.0),(11.7,6.0),(12.3,-2.0),(12.9,8.0)],
    [(12.0,10.0),(12.6,4.0),(13.2,14.0),(13.8,2.0),(14.4,10.0)],
    [(14.0,-2.0),(14.6,6.0),(15.2,-4.0),(15.8,8.0),(16.4,0.0)],
    [(16.0,6.0),(16.6,12.0),(17.2,4.0),(17.8,10.0),(18.4,5.0)],
    [(9.0,-6.0),(9.6,2.0),(10.2,-8.0),(10.8,0.0),(11.4,-5.0)],
]
VA_F_MEAN = [2.9, 3.3, 3.8, 4.4, 5.0, 5.8, 6.6, 7.6]
VA_F_HW = [2.2, 1.7, 1.3, 1.2, 1.2, 1.4, 1.9, 3.1]
VA_M_MEAN = [2.4, 2.8, 3.3, 3.7, 4.2, 4.8, 5.6, 6.9]
VA_M_HW = [2.5, 1.9, 1.5, 1.3, 1.3, 1.6, 2.2, 3.9]

TITLES = ["Right Cingulum", "Left Cingulum", "Cingulum asymmetry",
          "Right UF", "Left UF", "UF asymmetry",
          "Right vmPFC", "Left vmPFC", "VmPFC asymmetry"]
X_TICKS = [7.5, 10.0, 12.5, 15.0, 17.5]
FA_TICKS_TOP = [0.35, 0.40, 0.45, 0.50, 0.55]
FA_TICKS_BOT = [0.30, 0.35, 0.40, 0.45, 0.50]
CA_TICKS = [-10, -5, 0, 5, 10, 15]
UA_TICKS = [-15, -10, -5, 0, 5, 10]
VA_TICKS = [-20, -10, 0, 10, 20, 30]

# ---------------- drawing ----------------
RED = "#FF0000"
BLUE = "#0000FF"
TICK_GRAY = "#4D4D4D"
AX_GRAY = "#333333"

W, H = 1126, 1054
fig = plt.figure(figsize=(W / 100, H / 100), dpi=100)

cols = [(174, 448), (518, 791), (859, 1125)]
rows = [(37, 282), (400, 644), (762, 1008)]

panels = [
    (RC_F, RC_M, RC_F_MEAN, RC_F_HW, RC_M_MEAN, RC_M_HW, (0.3401, 0.5587), FA_TICKS_TOP, "FA", "{:.2f}"),
    (LC_F, LC_M, LC_F_MEAN, LC_F_HW, LC_M_MEAN, LC_M_HW, (0.3401, 0.5587), FA_TICKS_TOP, "FA", "{:.2f}"),
    (CA_F, CA_M, CA_F_MEAN, CA_F_HW, CA_M_MEAN, CA_M_HW, (-11.25, 16.2), CA_TICKS, "FA asymmetry", "{:d}"),
    (RU_F, RU_M, RU_F_MEAN, RU_F_HW, RU_M_MEAN, RU_M_HW, (0.341, 0.5605), FA_TICKS_TOP, "FA", "{:.2f}"),
    (LU_F, LU_M, LU_F_MEAN, LU_F_HW, LU_M_MEAN, LU_M_HW, (0.341, 0.5605), FA_TICKS_TOP, "FA", "{:.2f}"),
    (UA_F, UA_M, UA_F_MEAN, UA_F_HW, UA_M_MEAN, UA_M_HW, (-16.15, 11.2), UA_TICKS, "FA asymmetry", "{:d}"),
    (RV_F, RV_M, RV_F_MEAN, RV_F_HW, RV_M_MEAN, RV_M_HW, (0.290, 0.5095), FA_TICKS_BOT, "FA", "{:.2f}"),
    (LV_F, LV_M, LV_F_MEAN, LV_F_HW, LV_M_MEAN, LV_M_HW, (0.290, 0.5095), FA_TICKS_BOT, "FA", "{:.2f}"),
    (VA_F, VA_M, VA_F_MEAN, VA_F_HW, VA_M_MEAN, VA_M_HW, (-27.5, 32.5), VA_TICKS, "FA asymmetry", "{:d}"),
]


def traj_frame(fem, mal):
    recs = []
    uid = 0
    n = max(len(fem), len(mal))
    for i in range(n):
        for sex, group in (("F", fem), ("M", mal)):
            if i < len(group):
                for a, v in group[i]:
                    recs.append({"age": a, "val": v, "id": uid, "sex": sex})
                uid += 1
    return pd.DataFrame(recs)


for k, (fem, mal, fm, fh, mm, mh, ylim, yt, ylab, fmt) in enumerate(panels):
    r, c = divmod(k, 3)
    x0, x1 = cols[c]
    y0, y1 = rows[r]
    ax = fig.add_axes([x0 / W, 1 - y1 / H, (x1 - x0) / W, (y1 - y0) / H])

    df = traj_frame(fem, mal)
    for uid, g in df.groupby("id", sort=True):
        col = RED if g["sex"].iloc[0] == "F" else BLUE
        sns.lineplot(data=g, x="age", y="val", ax=ax, color=col, lw=1.0,
                     alpha=0.32, estimator=None, sort=False, legend=False)

    fit = pd.DataFrame({"age": FIT_AGE, "fm": fm, "fh": fh, "mm": mm, "mh": mh})
    ax.fill_between(fit["age"], fit["mm"] - fit["mh"], fit["mm"] + fit["mh"],
                    color=BLUE, alpha=0.32, lw=0)
    sns.lineplot(data=fit, x="age", y="mm", ax=ax, color=BLUE, lw=3.6, legend=False)
    ax.fill_between(fit["age"], fit["fm"] - fit["fh"], fit["fm"] + fit["fh"],
                    color=RED, alpha=0.30, lw=0)
    sns.lineplot(data=fit, x="age", y="fm", ax=ax, color=RED, lw=3.6, legend=False)

    ax.set_xlim(6.96, 19.15)
    ax.set_ylim(*ylim)
    ax.set_xticks(X_TICKS)
    ax.set_xticklabels(["{:.1f}".format(t) for t in X_TICKS],
                       fontsize=15, fontweight="bold", color=TICK_GRAY,
                       family=["Liberation Sans", "DejaVu Sans"])
    ax.set_yticks(yt)
    ax.set_yticklabels([fmt.format(t).replace("-", "\u2212") for t in yt],
                       fontsize=13.5, fontweight="bold", color=TICK_GRAY,
                       family=["Liberation Sans", "DejaVu Sans"])

    for side in ("top", "right"):
        ax.spines[side].set_visible(False)
    for side in ("left", "bottom"):
        ax.spines[side].set_color(AX_GRAY)
        ax.spines[side].set_linewidth(1.1)
    ax.tick_params(axis="both", colors=AX_GRAY, length=3.5, width=0.9)
    ax.tick_params(axis="y", pad=1.5)
    ax.tick_params(axis="x", pad=2)
    for lab in ax.get_xticklabels() + ax.get_yticklabels():
        lab.set_color(TICK_GRAY)

    ax.set_xlabel("Age", fontsize=16, fontweight="bold", color="black", labelpad=0)
    if c == 2:
        ax.set_ylabel(ylab, fontsize=15, fontweight="bold", color="black", labelpad=1)
        ax.set_title(TITLES[k], fontsize=17, fontweight="bold", color="black",
                     family=["Lato", "DejaVu Sans"], pad=5)
    else:
        ax.set_ylabel(ylab, fontsize=18, fontweight="bold", color="black",
                      labelpad=5 if c == 0 else 3)
        ax.set_title(TITLES[k], fontsize=18, fontweight="bold", color="black", pad=4)
    ax.set_facecolor("white")

# legend
fig.add_artist(Line2D([8 / W, 28 / W], [1 - 322 / H, 1 - 322 / H], color=RED, lw=4))
fig.add_artist(Line2D([8 / W, 28 / W], [1 - 367 / H, 1 - 367 / H], color=BLUE, lw=4))
fig.text(38 / W, 1 - 322 / H, "Females", fontsize=14.5, fontweight="bold", va="center", ha="left")
fig.text(38 / W, 1 - 367 / H, "Males", fontsize=14.5, fontweight="bold", va="center", ha="left")

fig.savefig("out.png", dpi=100, facecolor="white")
